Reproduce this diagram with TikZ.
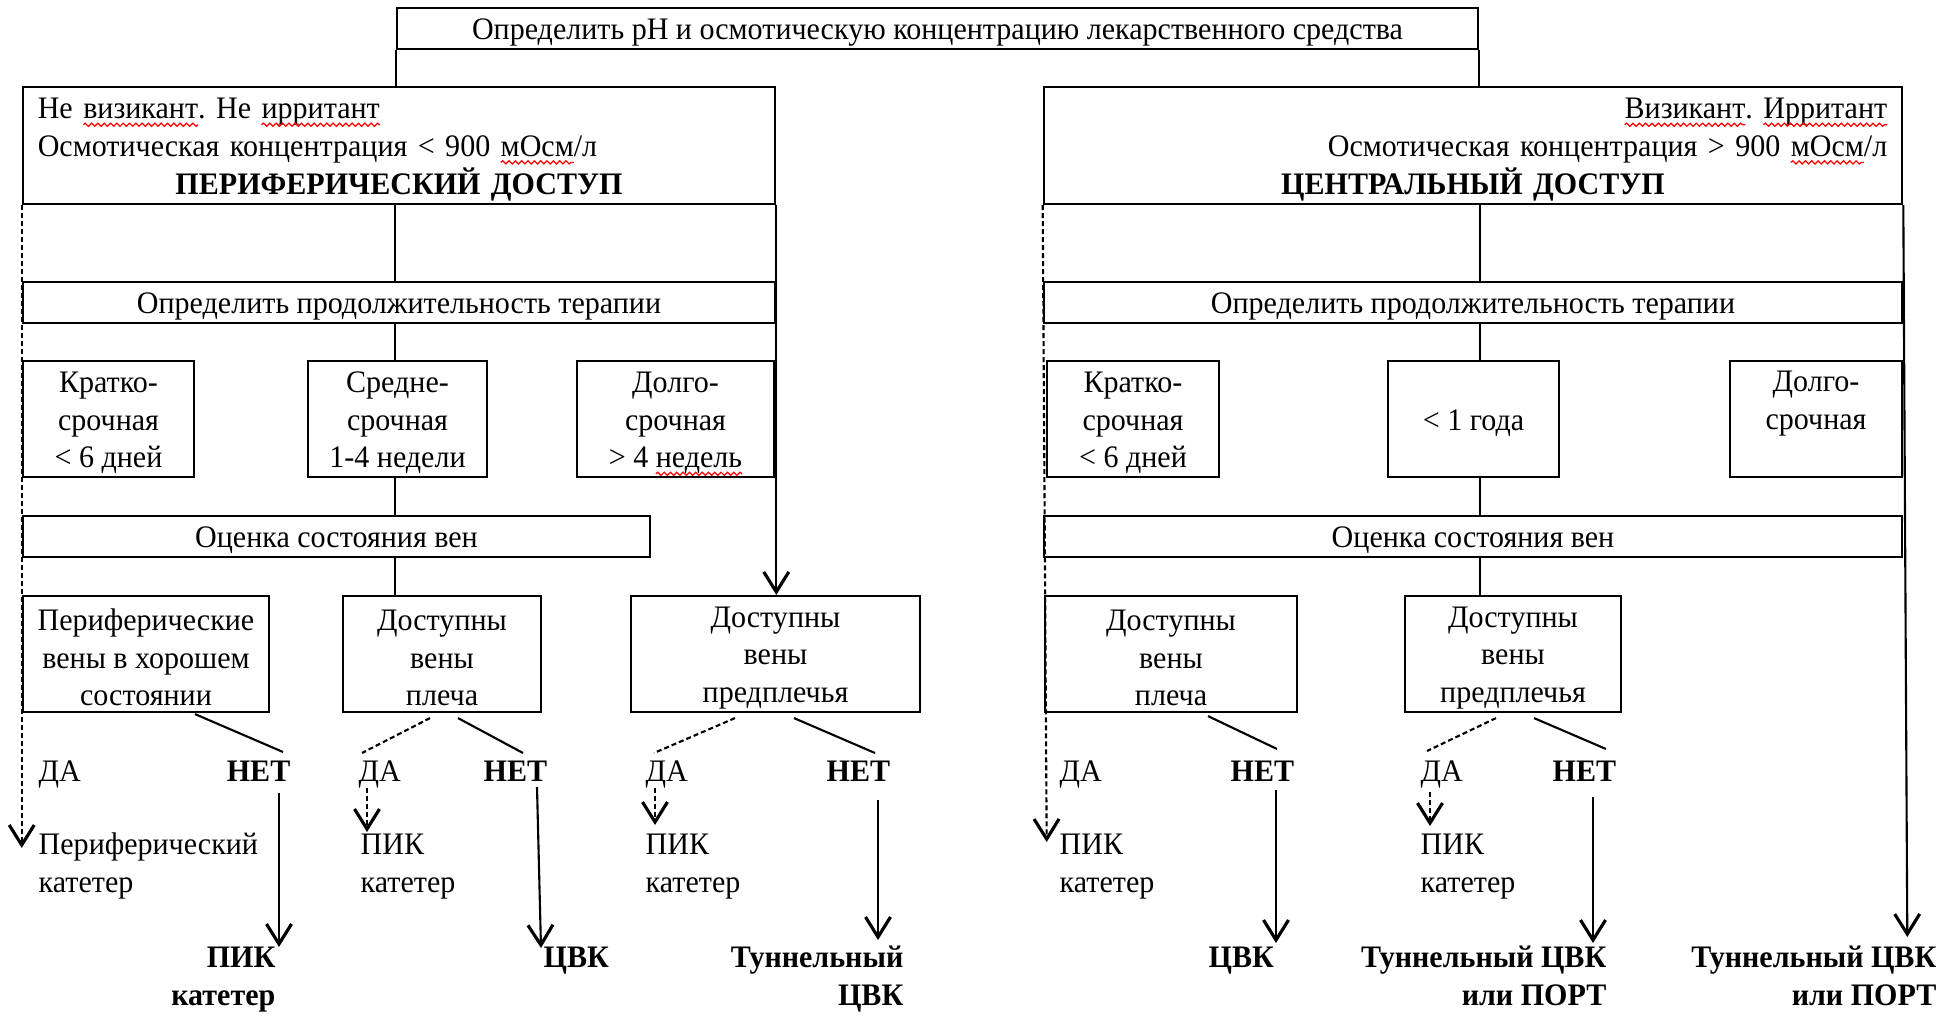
\documentclass[tikz,border=0pt]{standalone}
\usepackage{fontspec}
\setmainfont{Liberation Serif}[FakeStretch=0.96]
\usetikzlibrary{arrows.meta,calc,decorations.pathmorphing}
\newsavebox\rwbox
\newcommand\redwave[1]{\sbox\rwbox{#1}\rlap{\usebox\rwbox}\tikz[baseline=0pt]{\useasboundingbox (0pt,0pt) rectangle (\wd\rwbox,0pt);\draw[red, line width=0.35pt, solid, decorate, decoration={snake,amplitude=0.45pt,segment length=1.8pt}] (0pt,-1.7pt) -- (\wd\rwbox,-1.7pt);}}
\newcommand\ltab[1]{\begin{tabular}[t]{@{}l@{}}#1\end{tabular}}
\newcommand\rtab[1]{\begin{tabular}[t]{@{}r@{}}#1\end{tabular}}
\newcommand\up{\rule{0pt}{8.1pt}}
\begin{document}
\frenchspacing
\begin{tikzpicture}[x=0.01cm,y=-0.01cm,
  every node/.style={font=\fontsize{8.9pt}{10.7pt}\selectfont},
  box/.style={draw, line width=0.6pt, inner sep=0pt, align=center},
  ln/.style={line width=0.6pt},
  dsh/.style={line width=0.6pt, dash pattern=on 0.05cm off 0.03cm},
  arr/.style={-{Straight Barb[length=0.2cm,width=0.25cm,line width=0.9pt]}},
  lbl/.style={inner sep=0pt},
  bl/.style={inner sep=0pt, font=\fontsize{8.9pt}{10.7pt}\selectfont\bfseries}]
\useasboundingbox (0,0) rectangle (1957,1016);
% top
\node[box, minimum width=10.81cm, minimum height=0.41cm] (top) at (937.5,28.5)
  {\up Определить pH и осмотическую концентрацию лекарственного средства};
\node[box, minimum width=7.52cm, minimum height=1.17cm, text width=7.22cm, align=left] (perif) at (399,145.5)
  {\up Не \redwave{визикант}. Не \redwave{ирритант}\\Осмотическая концентрация < 900 \redwave{мОсм}/л\\\makebox[\linewidth]{\textbf{ПЕРИФЕРИЧЕСКИЙ ДОСТУП}}};
\node[box, minimum width=8.58cm, minimum height=1.17cm, text width=8.28cm, align=right] (central) at (1473,145.5)
  {\up\redwave{Визикант}. \redwave{Ирритант}\\Осмотическая концентрация > 900 \redwave{мОсм}/л\\\makebox[\linewidth]{\textbf{ЦЕНТРАЛЬНЫЙ ДОСТУП}}};
% duration
\node[box, minimum width=7.52cm, minimum height=0.41cm] (dur1) at (399,302.5) {\up Определить продолжительность терапии};
\node[box, minimum width=8.58cm, minimum height=0.41cm] (dur2) at (1473,302.5) {\up Определить продолжительность терапии};
% duration boxes
\node[box, minimum width=1.71cm, minimum height=1.16cm] (short1) at (108.5,419) {\up Кратко-\\срочная\\< 6 дней};
\node[box, minimum width=1.79cm, minimum height=1.16cm] (mid1) at (397.5,419) {\up Средне-\\срочная\\1-4 недели};
\node[box, minimum width=1.97cm, minimum height=1.16cm] (long1) at (675.5,419) {\up Долго-\\срочная\\> 4 \redwave{недель}};
\node[box, minimum width=1.72cm, minimum height=1.16cm] (short2) at (1133,419) {\up Кратко-\\срочная\\< 6 дней};
\node[box, minimum width=1.71cm, minimum height=1.16cm] (year) at (1473.5,419) {\up < 1 года};
\node[box, minimum width=1.72cm, minimum height=1.16cm] (long2) at (1816,419) {Долго-\\срочная\\~};
% veins
\node[box, minimum width=6.27cm, minimum height=0.41cm] (veins1) at (336.5,536.5) {\up Оценка состояния вен};
\node[box, minimum width=8.58cm, minimum height=0.41cm] (veins2) at (1473,536.5) {\up Оценка состояния вен};
\node[box, minimum width=2.46cm, minimum height=1.16cm] (pv) at (146,654) {\up Периферические\\вены в хорошем\\состоянии};
\node[box, minimum width=1.98cm, minimum height=1.16cm] (sh1) at (442,654) {\up Доступны\\вены\\плеча};
\node[box, minimum width=2.89cm, minimum height=1.16cm] (fa1) at (775.5,654) {\up Доступны\\вены\\предплечья};
\node[box, minimum width=2.52cm, minimum height=1.16cm] (sh2) at (1171,654) {\up Доступны\\вены\\плеча};
\node[box, minimum width=2.16cm, minimum height=1.16cm] (fa2) at (1513,654) {\up Доступны\\вены\\предплечья};
% labels
\node[lbl, anchor=base west] (da1) at (38,782) {ДА};
\node[bl, anchor=base east] (net1) at (291,782) {НЕТ};
\node[lbl, anchor=base west] (pc1) at (38,855) {\ltab{Периферический\\катетер}};
\node[bl, anchor=base east] (pik1) at (276,968) {\rtab{ПИК\\катетер}};
\node[lbl, anchor=base west] (da2) at (358,782) {ДА};
\node[bl, anchor=base west] (net2) at (483,782) {НЕТ};
\node[lbl, anchor=base west] (pk2) at (360,855) {\ltab{ПИК\\катетер}};
\node[bl, anchor=base west] (cvk1) at (543,968) {ЦВК};
\node[lbl, anchor=base west] (da3) at (645,782) {ДА};
\node[bl, anchor=base west] (net3) at (826,782) {НЕТ};
\node[lbl, anchor=base west] (pk3) at (645,855) {\ltab{ПИК\\катетер}};
\node[bl, anchor=base east] (tun1) at (904,968) {\rtab{Туннельный\\ЦВК}};
\node[lbl, anchor=base west] (da4) at (1059,782) {ДА};
\node[bl, anchor=base west] (net4) at (1230,782) {НЕТ};
\node[lbl, anchor=base west] (pk4) at (1059,855) {\ltab{ПИК\\катетер}};
\node[bl, anchor=base west] (cvk2) at (1208,968) {ЦВК};
\node[lbl, anchor=base west] (da5) at (1420,782) {ДА};
\node[bl, anchor=base west] (net5) at (1552,782) {НЕТ};
\node[lbl, anchor=base west] (pk5) at (1420,855) {\ltab{ПИК\\катетер}};
\node[bl, anchor=base east] (tun2) at (1607,968) {\rtab{Туннельный ЦВК\\или ПОРТ}};
\node[bl, anchor=base east] (tun3) at (1937,968) {\rtab{Туннельный ЦВК\\или ПОРТ}};
% spines
\coordinate (ls) at (395,0);
\coordinate (rs) at (1480,0);
\draw[ln] (top.south west) -- (top.south west |- perif.north);
\draw[ln] (top.south east) -- (top.south east |- central.north);
\draw[ln] (ls |- perif.south) -- (ls |- dur1.north);
\draw[ln] (ls |- dur1.south) -- (ls |- mid1.north);
\draw[ln] (ls |- mid1.south) -- (ls |- veins1.north);
\draw[ln] (ls |- veins1.south) -- (ls |- sh1.north);
\draw[ln] (rs |- central.south) -- (rs |- dur2.north);
\draw[ln] (rs |- dur2.south) -- (rs |- year.north);
\draw[ln] (rs |- year.south) -- (rs |- veins2.north);
\draw[ln] (rs |- veins2.south) -- (rs |- fa2.north);
% long arrows
\draw[dsh,arr] (perif.south west) -- ($(perif.south west |- pc1.base west)+(0,-7)$);
\draw[ln,arr] (perif.south east) -- (perif.south east |- fa1.north);
\draw[dsh,arr] (central.south west) -- ($(central.south west |- pk4.base west)+(4,-13)$);
\draw[ln,arr] (central.south east) -- ($(central.south east |- tun3.base east)+(4,-31)$);
% branch lines
\draw[ln] ($(pv.south)+(49,1)$) -- ($(net1.base east)+(-8,-30)$);
\draw[dsh] ($(sh1.south)+(-12,5)$) -- ($(da2.base west)+(4,-29)$);
\draw[ln] ($(sh1.south)+(16,5)$) -- ($(net2.base west)+(40,-29)$);
\draw[dsh] ($(fa1.south)+(-40.5,5)$) -- ($(da3.base west)+(9,-29)$);
\draw[ln] ($(fa1.south)+(18.5,5)$) -- ($(net3.base west)+(49,-29)$);
\draw[ln] ($(sh2.south)+(37,3)$) -- ($(net4.base west)+(47,-33)$);
\draw[dsh] ($(fa2.south)+(-17,5)$) -- ($(da5.base west)+(7,-31)$);
\draw[ln] ($(fa2.south)+(21,5)$) -- ($(net5.base west)+(54,-33)$);
% result arrows
\draw[ln,arr] ($(net1.base east)+(-12,11)$) -- ($(pik1.base east)+(3,-21)$);
\draw[dsh,arr] ($(da2.base west)+(9,6)$) -- ($(pk2.base west)+(7,-23)$);
\draw[ln,arr] ($(net2.base west)+(54,5)$) -- ($(cvk1.base west)+(-2,-20)$);
\draw[dsh,arr] ($(da3.base west)+(10,6)$) -- ($(pk3.base west)+(10,-30)$);
\draw[ln,arr] ($(net3.base west)+(52,18)$) -- ($(tun1.base east)+(-26,-28)$);
\draw[ln,arr] ($(net4.base west)+(46,8)$) -- ($(cvk2.base west)+(68,-25)$);
\draw[dsh,arr] ($(da5.base west)+(10,10)$) -- ($(pk5.base west)+(10,-29)$);
\draw[ln,arr] ($(net5.base west)+(41,15)$) -- ($(tun2.base east)+(-14,-25)$);
\end{tikzpicture}
\end{document}
